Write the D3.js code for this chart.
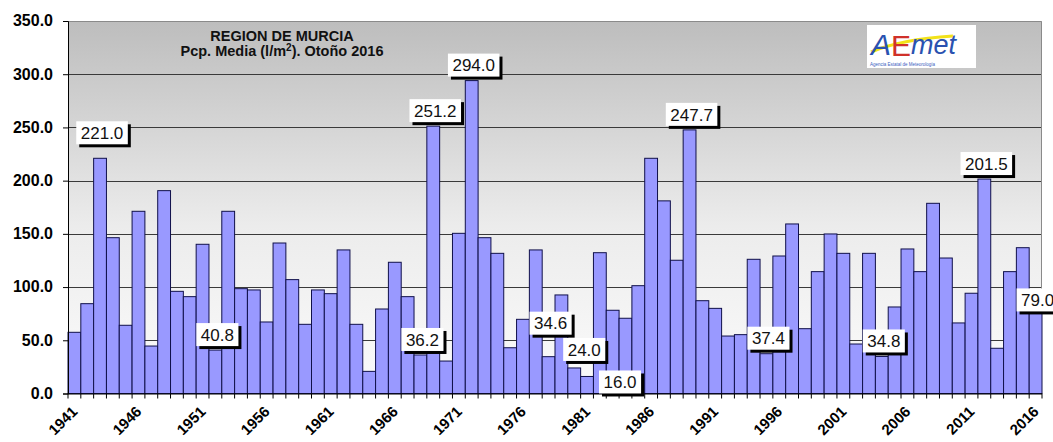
<!DOCTYPE html>
<html>
<head>
<meta charset="utf-8">
<script src="https://cdn.jsdelivr.net/npm/d3@7"></script>
<style>
    body { margin: 0; background: #fff; }
    svg { display: block; font-family: Arial, "Liberation Sans", sans-serif; }
    .axis-label { font-weight: bold; fill: #000; }
</style>
</head>
<body>
<div id="chart"></div>
<script>
// Precipitation, autumn, Region de Murcia (l/m2)
let years = d3.range(1941, 2017);

let pcp = [
    57.5, 84.4, 221.0, 146.4, 64.1, 171.2, 44.6, 190.6, 96.0, 91.0,
    140.2, 40.8, 171.2, 98.5, 97.3, 67.2, 141.4, 107.0, 65.0, 97.3,
    93.8, 134.9, 65.0, 20.8, 79.4, 123.3, 91.0, 36.2, 251.2, 30.5,
    150.5, 294.0, 146.4, 131.7, 43.0, 69.7, 134.9, 34.6, 92.6, 24.0,
    16.0, 132.3, 78.2, 70.7, 101.3, 221.0, 181.0, 125.2, 247.7, 87.2,
    80.0, 54.0, 55.3, 126.1, 37.4, 129.2, 159.3, 60.9, 114.5, 149.9,
    131.7, 46.5, 131.7, 34.8, 81.3, 135.8, 114.5, 178.7, 127.3, 66.3,
    94.2, 201.5, 42.5, 114.5, 137.0, 79.0
];

let labelledYears = [1943, 1952, 1968, 1969, 1972, 1978, 1980, 1981, 1989, 1995, 2004, 2012, 2016];

let yTicks = [0, 50, 100, 150, 200, 250, 300, 350];

let xTickYears = d3.range(1941, 2017, 5);

let titleLines = ["REGION DE MURCIA", "Pcp.  Media (l/m", "). Otoño 2016"];

// hand nudges for labels that were dragged around in the original
let labelNudge = {1943: [0, -10], 1978: [0, -18], 1980: [8, -3], 1981: [31, 21], 2016: [0, 6]};

let width = 1053, height = 442;
let margin = {top: 21, right: 11, bottom: 48.5, left: 68};
let innerW = width - margin.left - margin.right;
let innerH = height - margin.top - margin.bottom;

let colors = {
    bar: '#9999ff',
    barStroke: '#10104a',
    grid: '#3a3a3a',
    frame: '#8a8a8a'
};

let data = years.map((y, i) => ({year: y, value: pcp[i]}));

let svg = d3.select("#chart").append("svg")
    .attr("width", width)
    .attr("height", height);

// background gradient of the plot area
let defs = svg.append("defs");
let grad = defs.append("linearGradient")
    .attr("id", "bg")
    .attr("x1", 0).attr("y1", 0)
    .attr("x2", 0).attr("y2", 1);
grad.append("stop").attr("offset", "0%").attr("stop-color", "#bdbdbd");
grad.append("stop").attr("offset", "55%").attr("stop-color", "#ececec");
grad.append("stop").attr("offset", "100%").attr("stop-color", "#fbfbfb");

let g = svg.append("g")
    .attr("transform", "translate(" + margin.left + "," + margin.top + ")");

let x = d3.scaleBand()
    .domain(years)
    .range([0, innerW])
    .padding(0);

let y = d3.scaleLinear()
    .domain([0, 350])
    .range([innerH, 0]);

g.append("rect")
    .attr("width", innerW)
    .attr("height", innerH)
    .attr("fill", "url(#bg)");

// gridlines
g.selectAll(".grid")
    .data(yTicks.filter(d => d > 0 && d < 350))
    .enter().append("line")
    .attr("class", "grid")
    .attr("x1", 0).attr("x2", innerW)
    .attr("y1", d => Math.round(y(d)) + 0.5)
    .attr("y2", d => Math.round(y(d)) + 0.5)
    .attr("stroke", colors.grid)
    .attr("stroke-width", 1);

// frame top / right
g.append("path")
    .attr("d", "M0," + (y(350) + 0.5) + "H" + (innerW - 0.5) + "V" + innerH)
    .attr("fill", "none")
    .attr("stroke", colors.frame);

// Bars
g.selectAll(".bar")
    .data(data)
    .enter().append("rect")
    .attr("class", "bar")
    .attr("x", d => x(d.year))
    .attr("y", d => y(d.value))
    .attr("width", x.bandwidth())
    .attr("height", d => innerH - y(d.value))
    .attr("fill", colors.bar)
    .attr("stroke", colors.barStroke)
    .attr("stroke-width", 1);

// y axis
let yAxis = d3.axisLeft(y)
    .tickValues(yTicks)
    .tickSize(5)
    .tickFormat(d3.format(".1f"));

let yg = g.append("g").attr("class", "y-axis").call(yAxis);
yg.select(".domain").attr("stroke", "#000");
yg.selectAll(".tick line").attr("stroke", "#000");
yg.selectAll(".tick text")
    .attr("class", "axis-label")
    .attr("x", -15)
    .attr("dy", "0.3em")
    .style("font-size", "16px");

// x axis: ticks between categories, labels every 5 years
let xg = g.append("g")
    .attr("class", "x-axis")
    .attr("transform", "translate(0," + innerH + ")");

xg.append("line")
    .attr("x1", 0).attr("x2", innerW)
    .attr("y1", 0.5).attr("y2", 0.5)
    .attr("stroke", "#000");

xg.selectAll(".xtick")
    .data(years.concat([2017]))
    .enter().append("line")
    .attr("class", "xtick")
    .attr("x1", d => d === 2017 ? innerW : x(d))
    .attr("x2", d => d === 2017 ? innerW : x(d))
    .attr("y1", 0).attr("y2", 5)
    .attr("stroke", "#000");

xg.selectAll(".xlab")
    .data(xTickYears)
    .enter().append("text")
    .attr("class", "axis-label")
    .attr("text-anchor", "end")
    .style("font-size", "15px")
    .attr("transform", d => "translate(" + (x(d) + x.bandwidth() / 2 + 4) + ",19) rotate(-45)")
    .text(d => d);

// value labels: white box with a black drop shadow
let labData = data.filter(d => labelledYears.includes(d.year));

let labs = g.selectAll(".vlab")
    .data(labData)
    .enter().append("g")
    .attr("class", "vlab")
    .attr("transform", d => {
        let n = labelNudge[d.year] || [0, 0];
        return "translate(" + (x(d.year) + x.bandwidth() / 2 + 2 + n[0]) + "," + (y(d.value) - 15.5 + n[1]) + ")";
    });

labs.each(function(d) {
    let sel = d3.select(this);
    let shadow = sel.append("rect").attr("fill", "#000");
    let box = sel.append("rect").attr("fill", "#fff");
    let t = sel.append("text")
        .attr("text-anchor", "middle")
        .attr("dy", "0.36em")
        .style("font-size", "17px")
        .attr("fill", "#111")
        .text(d3.format(".1f")(d.value));
    let bb = t.node().getBBox();
    let w = bb.width + 9, h = 23;
    box.attr("x", -w / 2).attr("y", -h / 2).attr("width", w).attr("height", h);
    shadow.attr("x", -w / 2 + 3).attr("y", -h / 2 + 3).attr("width", w).attr("height", h);
});

// title
let tx = 282 - margin.left;
let title = g.append("text")
    .attr("text-anchor", "middle")
    .attr("font-weight", "bold")
    .style("font-size", "14.5px")
    .attr("fill", "#111");
title.append("tspan").attr("x", tx).attr("y", 20).text(titleLines[0]);
let l2 = title.append("tspan").attr("x", tx).attr("y", 35);
l2.append("tspan").text(titleLines[1]);
l2.append("tspan").attr("dy", -5).style("font-size", "10px").text("2");
l2.append("tspan").attr("dy", 5).text(titleLines[2]);

// AEMET logo
let logo = svg.append("g").attr("transform", "translate(867,25)");
logo.append("rect").attr("width", 109).attr("height", 43).attr("fill", "#fff");
logo.append("path")
    .attr("d", "M4,27 C25,18 55,13 86,11")
    .attr("fill", "none")
    .attr("stroke", "#f2e21a")
    .attr("stroke-width", 3);
logo.append("text")
    .attr("x", 4).attr("y", 30)
    .style("font-size", "30px")
    .style("font-style", "italic")
    .attr("fill", "#2a52b0")
    .text("A");
logo.append("text")
    .attr("x", 24).attr("y", 31)
    .style("font-size", "30px")
    .attr("fill", "#d0312a")
    .text("E");
logo.append("text")
    .attr("x", 44).attr("y", 29)
    .style("font-size", "27px")
    .style("font-style", "italic")
    .attr("fill", "#2a52b0")
    .text("met");
logo.append("text")
    .attr("x", 3).attr("y", 41)
    .style("font-size", "4.5px")
    .attr("fill", "#3a5cc0")
    .text("Agencia Estatal de Meteorología");
</script>
</body>
</html>
